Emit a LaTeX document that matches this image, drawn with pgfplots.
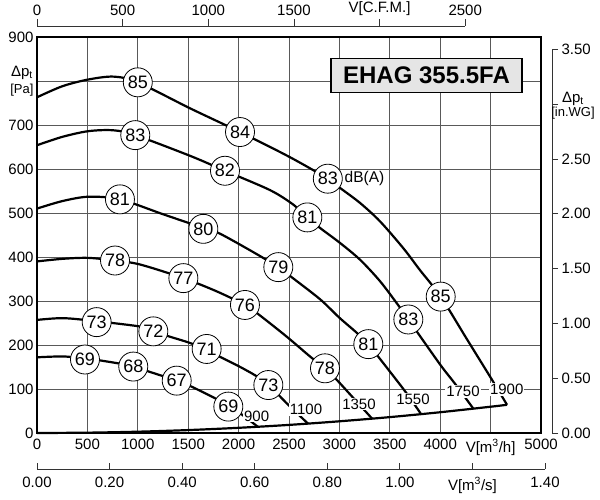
\documentclass[border=0pt]{standalone}
\usepackage{pgfplots}
\pgfplotsset{compat=1.18}
\usepackage{fontspec}
\setmainfont{Liberation Sans}
\newcommand\tickfont{\fontsize{15bp}{17bp}\selectfont}
\newcommand\labfont{\fontsize{15bp}{22bp}\selectfont}
\newcommand\rlabfont{\fontsize{15bp}{21bp}\selectfont}
\newcommand\smallfont{\fontsize{13bp}{15bp}\selectfont}
\tikzset{
  bubble/.style={circle, draw=black, line width=0.8bp, fill=white, minimum size=29bp, inner sep=0pt, font=\fontsize{18bp}{20bp}\selectfont},
  rpm/.style={fill=white, inner sep=1bp, font=\tickfont},
}
\begin{document}
\begin{tikzpicture}
\path[use as bounding box] (-37bp,-67bp) rectangle (563bp,433bp);
\begin{axis}[
  at={(0,0)}, anchor=south west,
  scale only axis, width=504bp, height=396bp,
  xmin=0, xmax=5000, ymin=0, ymax=900,
  xtick={0,500,...,5000}, ytick={0,100,...,900},
  xticklabels={0,500,1000,1500,2000,2500,3000,3500,4000,{V[m\textsuperscript{3}/h]},5000},
  yticklabels={0,100,200,300,400,500,600,700,{\labfont Δp\textsubscript{t}\\{\smallfont[Pa]}},900},
  grid=major,
  major grid style={black!65, line width=0.7bp},
  major tick length=0pt,
  axis line style={line width=2.8bp},
  tick label style={font=\tickfont},
  yticklabel style={align=center},
  xticklabel style={yshift=-3bp},
  clip=false,
]
% system curve
\addplot[line width=2.2bp, smooth] coordinates {(0,0) (500,0.74) (1000,2.95) (1500,6.64) (2000,11.8) (2500,18.4) (3000,26.6) (3500,36.1) (4000,47.2) (4500,59.7) (4663,64.1)};
% fan curves
\addplot[line width=2.2bp, smooth] coordinates {(0,763) (250,788) (500,803) (757,810) (1000,797) (1518,738) (2014,684) (2500,628) (2885,578) (3006,557) (3204,523) (3403,481) (3634,420) (3800,370) (4005,310) (4263,214) (4511,122) (4663,64)};
\addplot[line width=2.2bp, smooth] coordinates {(0,654) (250,673) (509,686) (757,688) (975,677) (1518,630) (1865,596) (2312,552) (2543,519) (2682,490) (2808,466) (3006,432) (3204,394) (3403,345) (3585,290) (3684,258) (3998,156) (4147,112) (4330,55)};
\addplot[line width=2.2bp, smooth] coordinates {(0,510) (250,527) (509,537) (823,531) (1253,497) (1650,466) (1815,453) (2146,411) (2394,377) (2527,354) (2808,304) (3000,262) (3171,228) (3287,202) (3370,178) (3651,95) (3810,43)};
\addplot[line width=2.2bp, smooth] coordinates {(0,390) (261,396) (509,398) (774,392) (1022,383) (1452,352) (1782,322) (2063,291) (2196,270) (2477,219) (2708,174) (2857,147) (2973,121) (3105,88) (3323,33)};
\addplot[line width=2.2bp, smooth] coordinates {(0,257) (261,261) (592,254) (1022,242) (1154,232) (1303,220) (1500,206) (1683,190) (1799,175) (2000,152) (2179,129) (2295,109) (2394,87) (2493,64) (2690,21)};
\addplot[line width=2.2bp, smooth] coordinates {(0,172) (261,174) (476,169) (625,165) (955,152) (1105,140) (1386,119) (1518,107) (1766,79) (1898,61) (2014,45) (2192,14)};
% rpm labels
\addplot[draw=none, nodes near coords, point meta=explicit symbolic,
  every node near coord/.append style={rpm, anchor=center}]
  table[row sep=\\, meta=l] {
  x y l\\
  2179 39 900\\
  2669 53 1100\\
  3194 66 1350\\
  3730 77 1550\\
  4226 94 1750\\
  4660 99 1900\\
  };
% dB bubbles
\addplot[draw=none, nodes near coords, point meta=explicit symbolic,
  every node near coord/.append style={bubble, anchor=center}]
  table[row sep=\\, meta=l] {
  x y l\\
  1000 797 85\\
  2014 684 84\\
  2885 578 83\\
  4005 310 85\\
  975 677 83\\
  1865 596 82\\
  2682 490 81\\
  3684 258 83\\
  823 531 81\\
  1650 464 80\\
  2394 377 79\\
  3287 202 81\\
  774 392 78\\
  1452 352 77\\
  2063 291 76\\
  2857 147 78\\
  592 252 73\\
  1154 231 72\\
  1683 191 71\\
  2295 109 73\\
  476 167 69\\
  955 151 68\\
  1386 119 67\\
  1898 60 69\\
  };
\node[anchor=west, font=\fontsize{15.5bp}{17bp}\selectfont, inner sep=1bp] at (axis cs:3040,578) {dB(A)};
\node[draw=black, line width=1.2bp, fill=black!10, minimum width=191bp, minimum height=34bp, inner sep=0pt, font=\fontsize{24bp}{26bp}\selectfont\bfseries] at (axis cs:3864,813) {EHAG 355.5FA};
\end{axis}
% top CFM axis
\begin{axis}[
  at={(0,407bp)}, anchor=north west,
  scale only axis, width=428.2bp, height=5bp,
  xmin=0, xmax=2500, ymin=0, ymax=1,
  axis x line=top, axis y line=none,
  axis line style={-, line width=0.8bp, black!80},
  xtick={0,500,1000,1500,2000,2500},
  xticklabels={0,500,1000,1500,V[C.F.M.],2500},
  tick align=outside, major tick length=7bp,
  tick style={line width=0.8bp, black!80},
  tick label style={font=\tickfont},
]
\end{axis}
% right in.WG axis
\begin{axis}[
  at={(515bp,0)}, anchor=south east,
  scale only axis, width=5bp, height=383.6bp,
  xmin=0, xmax=1, ymin=0, ymax=3.5,
  axis y line=right, axis x line=none,
  axis line style={-, line width=0.8bp, black!80},
  ytick={0,0.5,1,1.5,2,2.5,3,3.5},
  yticklabels={0.00,0.50,1.00,1.50,2.00,2.50,{},3.50},
  tick align=outside, major tick length=6bp,
  tick style={line width=0.8bp, black!80},
  tick label style={font=\tickfont},
  clip=false,
]
\node[align=center, inner sep=0pt, xshift=21bp, yshift=-1.5bp] at (axis cs:1,3) {\rlabfont Δp\textsubscript{t}\\{\smallfont[in.WG]}};
\end{axis}
% bottom m3/s axis
\begin{axis}[
  at={(0,-36bp)}, anchor=south west,
  scale only axis, width=508bp, height=5bp,
  xmin=0, xmax=1.4, ymin=0, ymax=1,
  axis x line=bottom, axis y line=none,
  axis line style={-, line width=0.8bp, black!80},
  xtick={0,0.2,0.4,0.6,0.8,1.0,1.2,1.4},
  xticklabels={0.00,0.20,0.40,0.60,0.80,1.00,{V[m\textsuperscript{3}/s]},1.40},
  tick align=inside, major tick length=6bp,
  tick style={line width=0.8bp, black!80},
  tick label style={font=\tickfont},
  xticklabel style={yshift=-5bp},
]
\end{axis}
\end{tikzpicture}
\end{document}
